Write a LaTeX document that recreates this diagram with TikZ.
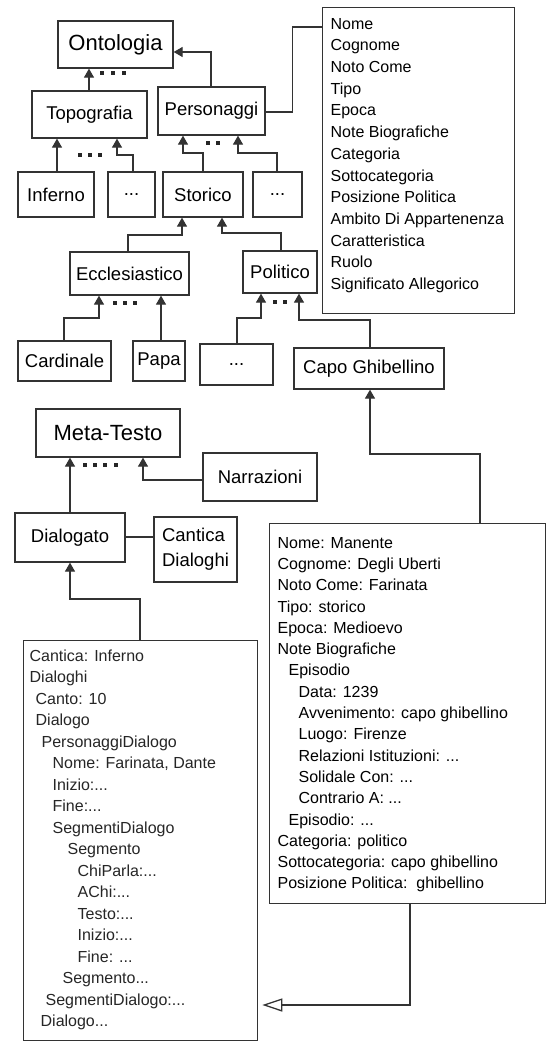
\documentclass[tikz,border=0pt]{standalone}
\usepackage{fontspec}
\setmainfont{Liberation Sans}
\usetikzlibrary{arrows.meta}
\newcommand\Lr[2]{\hspace*{#1pt}#2\par}
\begin{document}
\begin{tikzpicture}[x=1pt,y=-1pt,
  box/.style={draw=black!80, line width=1.3pt, inner sep=0pt, fill=white, font=\fontsize{18.5}{23}\selectfont},
  bigbox/.style={box, font=\fontsize{22}{26}\selectfont},
  listbox/.style={draw=black!80, line width=1.3pt, inner sep=0pt, anchor=north west, fill=white},
  conn/.style={draw=black!80, line width=1.3pt},
  inh/.style={conn, -{Triangle[length=9pt,width=10pt]}},
  real/.style={conn, -{Triangle[open,length=20pt,width=13pt]}, shorten >=4pt},
  dotsq/.style={fill=black!85}]
\useasboundingbox (0,0) rectangle (548,1042);
\fill[white] (0,0) rectangle (548,1042);

% ---------- top hierarchy ----------
\node[bigbox, minimum width=115pt, minimum height=47pt] (ont) at (115.5,44.5) {Ontologia};
\node[box, minimum width=115pt, minimum height=47pt] (topo) at (89.5,114.5) {Topografia};
\node[box, minimum width=107pt, minimum height=48pt] (pers) at (211.5,111) {Personaggi};

\node[listbox] (attr) at (322,7) {\parbox[c][306pt][t]{192pt}{\fontsize{16}{21.7}\selectfont\parindent0pt\parskip0pt\leftskip8pt
\Lr{0}{\rule{0pt}{21.5pt}Nome}
\Lr{0}{Cognome}
\Lr{0}{Noto Come}
\Lr{0}{Tipo}
\Lr{0}{Epoca}
\Lr{0}{Note Biografiche}
\Lr{0}{Categoria}
\Lr{0}{Sottocategoria}
\Lr{0}{Posizione Politica}
\Lr{0}{Ambito Di Appartenenza}
\Lr{0}{Caratteristica}
\Lr{0}{Ruolo}
\Lr{0}{Significato Allegorico}}};

\node[box, minimum width=76pt, minimum height=45pt] (inf) at (56,194.5) {Inferno};
\node[box, minimum width=47pt, minimum height=45pt] (da) at (131.5,194.5) {...};
\node[box, minimum width=80pt, minimum height=45pt] (sto) at (203,194.5) {Storico};
\node[box, minimum width=49pt, minimum height=45pt] (db) at (277.5,194.5) {...};

\node[box, minimum width=119pt, minimum height=43pt] (eccl) at (129.5,273.5) {Ecclesiastico};
\node[box, minimum width=74pt, minimum height=42pt] (pol) at (280,272) {Politico};

\node[box, minimum width=93pt, minimum height=40pt] (card) at (64.5,361) {Cardinale};
\node[box, minimum width=52pt, minimum height=40pt] (papa) at (159,361) {Papa};
\node[box, minimum width=73pt, minimum height=41pt] (dc) at (236.5,364.5) {...};
\node[box, minimum width=150pt, minimum height=41pt] (capo) at (369,368.5) {Capo Ghibellino};

% ---------- meta-testo ----------
\node[bigbox, minimum width=144pt, minimum height=48pt] (meta) at (108,433) {Meta-Testo};
\node[box, minimum width=114pt, minimum height=48pt] (narr) at (260,477) {Narrazioni};
\node[box, minimum width=110pt, minimum height=49pt] (dial) at (70,537.5) {Dialogato};
\node[box, minimum width=83pt, minimum height=65pt, align=left, font=\fontsize{18.5}{25}\selectfont] (cant) at (195.5,549.5) {Cantica\\Dialoghi};

% ---------- instance boxes ----------
\node[listbox] (far) at (269,523) {\parbox[c][380pt][t]{276pt}{\fontsize{16}{21.3}\selectfont\parindent0pt\parskip0pt\leftskip8pt
\Lr{0}{\rule{0pt}{24.5pt}Nome: Manente}
\Lr{0}{Cognome: Degli Uberti}
\Lr{0}{Noto Come: Farinata}
\Lr{0}{Tipo: storico}
\Lr{0}{Epoca: Medioevo}
\Lr{0}{Note Biografiche}
\Lr{11}{Episodio}
\Lr{21}{Data: 1239}
\Lr{21}{Avvenimento: capo ghibellino}
\Lr{21}{Luogo: Firenze}
\Lr{21}{Relazioni Istituzioni: ...}
\Lr{21}{Solidale Con: ...}
\Lr{21}{Contrario A: ...}
\Lr{11}{Episodio: ...}
\Lr{0}{Categoria: politico}
\Lr{0}{Sottocategoria: capo ghibellino}
\Lr{0}{Posizione Politica:\ \ ghibellino}}};

\node[listbox] (dlg) at (23,640) {\parbox[c][400pt][t]{234pt}{\color{black!85}\fontsize{16}{21.5}\selectfont\parindent0pt\parskip0pt\leftskip6pt
\Lr{0}{\rule{0pt}{20.5pt}Cantica: Inferno}
\Lr{0}{Dialoghi}
\Lr{6}{Canto: 10}
\Lr{6}{Dialogo}
\Lr{12}{PersonaggiDialogo}
\Lr{23}{Nome: Farinata, Dante}
\Lr{23}{Inizio:...}
\Lr{23}{Fine:...}
\Lr{23}{SegmentiDialogo}
\Lr{38}{Segmento}
\Lr{48}{ChiParla:...}
\Lr{48}{AChi:...}
\Lr{48}{Testo:...}
\Lr{48}{Inizio:...}
\Lr{48}{Fine: ...}
\Lr{33}{Segmento...}
\Lr{16}{SegmentiDialogo:...}
\Lr{11}{Dialogo...}}};

% ---------- connectors ----------
\draw[inh] (topo.north -| 89,0) -- (ont.south -| 89,0);
\draw[inh] (pers.north -| 211,0) |- (ont.east |- 0,52);
\draw[conn] (pers.east |- 0,112) -- ++(27,0) |- (attr.west |- 0,27);

\draw[inh] (inf.north -| 57,0) -- (topo.south -| 57,0);
\draw[inh] (da.north -| 133,0) |- (117,155) -- (topo.south -| 117,0);
\draw[inh] (sto.north -| 203,0) |- (183,153) -- (pers.south -| 183,0);
\draw[inh] (db.north -| 277,0) |- (238,153) -- (pers.south -| 238,0);

\draw[inh] (eccl.north -| 128,0) |- (182,235) -- (sto.south -| 182,0);
\draw[inh] (pol.north -| 281,0) |- (222,233) -- (sto.south -| 222,0);

\draw[inh] (card.north -| 64,0) |- (99,318) -- (eccl.south -| 99,0);
\draw[inh] (papa.north -| 161,0) -- (eccl.south -| 161,0);
\draw[inh] (dc.north -| 237,0) |- (261,318) -- (pol.south -| 261,0);
\draw[inh] (capo.north -| 370,0) |- (299,320) -- (pol.south -| 299,0);

\draw[inh] (far.north -| 480,0) |- (370,454) -- (capo.south -| 370,0);

\draw[inh] (dial.north -| 70,0) -- (meta.south -| 70,0);
\draw[inh] (narr.west |- 0,480) -| (meta.south -| 143,0);
\draw[conn] (dial.east |- 0,537) -- (cant.west |- 0,537);
\draw[inh] (dlg.north -| 140,0) |- (70,599) -- (dial.south -| 70,0);

\draw[real] (far.south -| 410,0) |- (dlg.east |- 0,1005);

% ---------- ellipsis marks ----------
\foreach \x in {102,113,124} \fill[dotsq] (\x-2.2,71) rectangle (\x+2.2,75);
\foreach \x in {80,90,100} \fill[dotsq] (\x-2.2,153) rectangle (\x+2.2,157);
\foreach \x in {208,218} \fill[dotsq] (\x-2.2,141) rectangle (\x+2.2,145);
\foreach \x in {115,125,135} \fill[dotsq] (\x-2.2,301) rectangle (\x+2.2,305);
\foreach \x in {275,285} \fill[dotsq] (\x-2.2,300) rectangle (\x+2.2,304);
\foreach \x in {85,95,105,116} \fill[dotsq] (\x-2.2,463) rectangle (\x+2.2,467);
\end{tikzpicture}
\end{document}
